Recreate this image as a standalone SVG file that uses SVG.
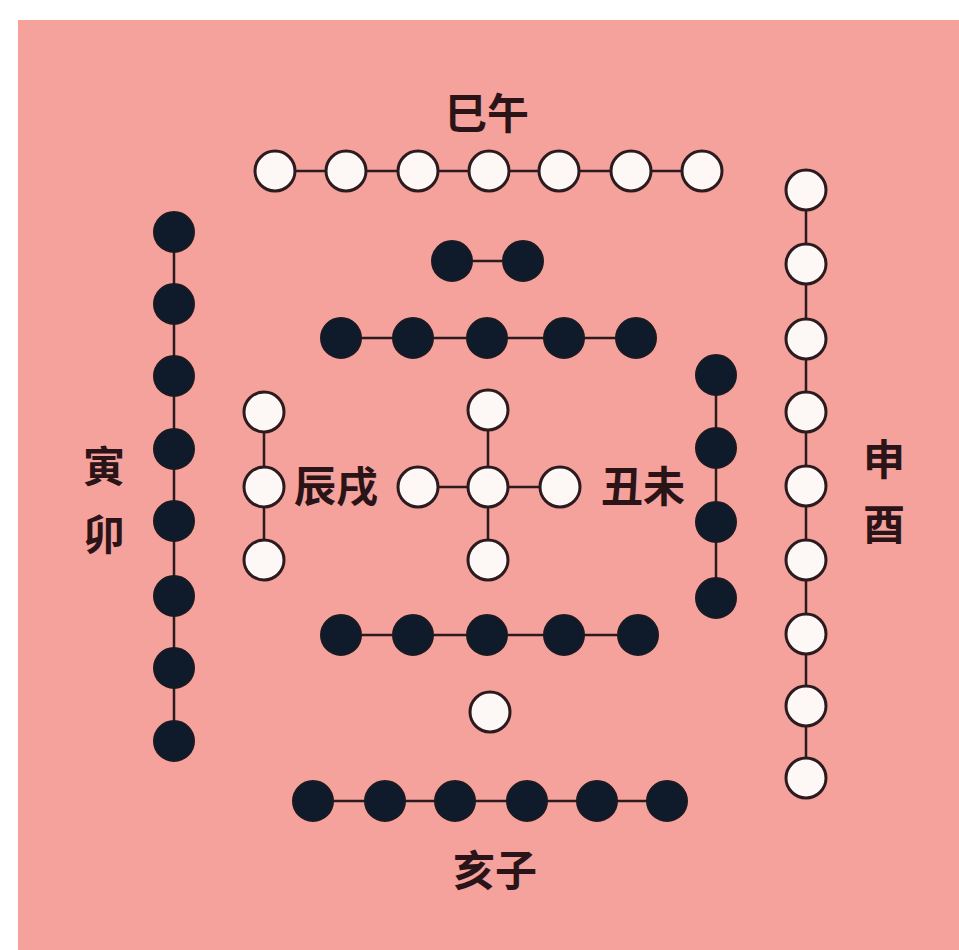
<svg xmlns="http://www.w3.org/2000/svg" width="959" height="950" viewBox="0 0 959 950">
<style>
.w{fill:#fdf8f6;stroke:#2b1a1e;stroke-width:3}
.b{fill:#0f1a2a;stroke:#1a1a22;stroke-width:2}
.c{stroke:#2b1a1e;stroke-width:2.5;fill:none}
.t{font-family:"Noto Sans CJK SC","Noto Sans CJK TC",sans-serif;font-size:42px;font-weight:600;fill:#2a1418}
</style>
<rect width="959" height="950" fill="#ffffff"/>
<rect x="18" y="20" width="941" height="930" fill="#f5a19c"/>
<g id="connectors" class="c">
<line x1="275" y1="171" x2="702" y2="171"/>
<line x1="174" y1="232" x2="174" y2="741"/>
<line x1="452" y1="261" x2="523" y2="261"/>
<line x1="341" y1="338" x2="636" y2="338"/>
<line x1="716" y1="375" x2="716" y2="598"/>
<line x1="806" y1="190" x2="806" y2="778"/>
<line x1="264" y1="412" x2="264" y2="560"/>
<line x1="418" y1="487" x2="560" y2="487"/>
<line x1="488" y1="410" x2="488" y2="560"/>
<line x1="341" y1="635" x2="638" y2="635"/>
<line x1="313" y1="801" x2="667" y2="801"/>
</g>
<g id="top-white">
<circle class="w" cx="275" cy="171" r="20"/>
<circle class="w" cx="346" cy="171" r="20"/>
<circle class="w" cx="418" cy="171" r="20"/>
<circle class="w" cx="489" cy="171" r="20"/>
<circle class="w" cx="559" cy="171" r="20"/>
<circle class="w" cx="631" cy="171" r="20"/>
<circle class="w" cx="702" cy="171" r="20"/>
</g>
<g id="left-black">
<circle class="b" cx="174" cy="232" r="20"/>
<circle class="b" cx="174" cy="304" r="20"/>
<circle class="b" cx="174" cy="376" r="20"/>
<circle class="b" cx="174" cy="449" r="20"/>
<circle class="b" cx="174" cy="521" r="20"/>
<circle class="b" cx="174" cy="596" r="20"/>
<circle class="b" cx="174" cy="668" r="20"/>
<circle class="b" cx="174" cy="741" r="20"/>
</g>
<g id="pair-black">
<circle class="b" cx="452" cy="261" r="20"/>
<circle class="b" cx="523" cy="261" r="20"/>
</g>
<g id="row5-black-top">
<circle class="b" cx="341" cy="338" r="20"/>
<circle class="b" cx="413" cy="338" r="20"/>
<circle class="b" cx="487" cy="338" r="20"/>
<circle class="b" cx="564" cy="338" r="20"/>
<circle class="b" cx="636" cy="338" r="20"/>
</g>
<g id="right-black">
<circle class="b" cx="716" cy="375" r="20"/>
<circle class="b" cx="716" cy="448" r="20"/>
<circle class="b" cx="716" cy="522" r="20"/>
<circle class="b" cx="716" cy="598" r="20"/>
</g>
<g id="right-white">
<circle class="w" cx="806" cy="190" r="20"/>
<circle class="w" cx="806" cy="264" r="20"/>
<circle class="w" cx="806" cy="339" r="20"/>
<circle class="w" cx="806" cy="412" r="20"/>
<circle class="w" cx="806" cy="486" r="20"/>
<circle class="w" cx="806" cy="560" r="20"/>
<circle class="w" cx="806" cy="634" r="20"/>
<circle class="w" cx="806" cy="706" r="20"/>
<circle class="w" cx="806" cy="778" r="20"/>
</g>
<g id="left-white">
<circle class="w" cx="264" cy="412" r="20"/>
<circle class="w" cx="264" cy="487" r="20"/>
<circle class="w" cx="264" cy="560" r="20"/>
</g>
<g id="center-cross">
<circle class="w" cx="488" cy="410" r="20"/>
<circle class="w" cx="418" cy="487" r="20"/>
<circle class="w" cx="488" cy="487" r="20"/>
<circle class="w" cx="560" cy="487" r="20"/>
<circle class="w" cx="488" cy="560" r="20"/>
</g>
<g id="row5-black-bottom">
<circle class="b" cx="341" cy="635" r="20"/>
<circle class="b" cx="413" cy="635" r="20"/>
<circle class="b" cx="487" cy="635" r="20"/>
<circle class="b" cx="564" cy="635" r="20"/>
<circle class="b" cx="638" cy="635" r="20"/>
</g>
<g id="single-white">
<circle class="w" cx="490" cy="712" r="20"/>
</g>
<g id="bottom-black">
<circle class="b" cx="313" cy="801" r="20"/>
<circle class="b" cx="385" cy="801" r="20"/>
<circle class="b" cx="455" cy="801" r="20"/>
<circle class="b" cx="527" cy="801" r="20"/>
<circle class="b" cx="597" cy="801" r="20"/>
<circle class="b" cx="667" cy="801" r="20"/>
</g>
<g id="labels" class="t">
<text x="487" y="129" text-anchor="middle">巳午</text>
<text x="104" y="482" text-anchor="middle">寅</text>
<text x="104" y="550" text-anchor="middle">卯</text>
<text x="884" y="475" text-anchor="middle">申</text>
<text x="884" y="540" text-anchor="middle">酉</text>
<text x="336" y="502" text-anchor="middle">辰戌</text>
<text x="643" y="502" text-anchor="middle">丑未</text>
<text x="495" y="886" text-anchor="middle">亥子</text>
</g>
</svg>
